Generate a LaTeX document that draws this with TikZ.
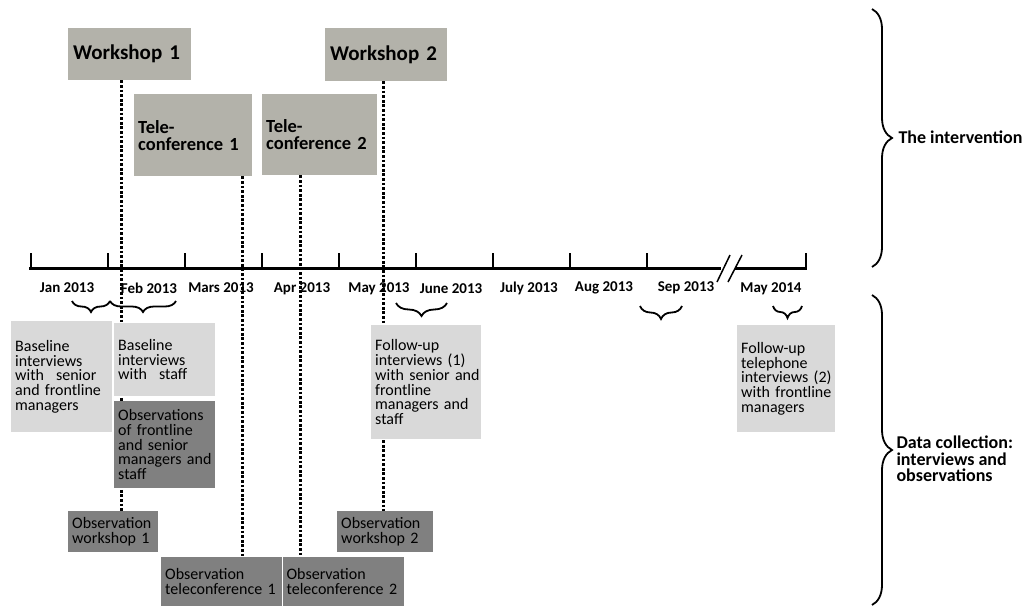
\documentclass[tikz,border=0pt]{standalone}
\usepackage{fontspec}
\setmainfont{Carlito}
\usetikzlibrary{positioning,decorations.pathreplacing,backgrounds}
\definecolor{eventgray}{RGB}{179,178,170}
\definecolor{intgray}{RGB}{217,217,217}
\definecolor{obsgray}{RGB}{128,128,128}
\hyphenpenalty=10000
\exhyphenpenalty=10000
\tikzstyle{event}=[fill=eventgray, anchor=north west, align=left, inner xsep=5pt, inner ysep=0pt]
\tikzstyle{interview}=[fill=intgray, anchor=north west, align=left, inner xsep=4pt, inner ysep=0pt, font=\fontsize{16}{14.7}\selectfont]
\tikzstyle{observe}=[interview, fill=obsgray]
\tikzstyle{month}=[font=\fontsize{15}{16}\selectfont\bfseries]
\tikzstyle{phase}=[anchor=west, align=left, font=\fontsize{18}{16.5}\selectfont\bfseries]
\tikzstyle{timeline}=[line width=3pt, dash pattern=on 2.8pt off 1.8pt]
\tikzstyle{period}=[decorate, decoration={brace, mirror, amplitude=11pt}, line width=1.8pt]
\tikzstyle{part}=[decorate, decoration={brace, amplitude=20pt}, line width=1.8pt]

\begin{document}
\begin{tikzpicture}[x=1pt,y=-1pt]
        \useasboundingbox (0,0) rectangle (1033,606);
        % intervention
        \node [event, minimum width=123pt, minimum height=52pt, text width=113pt, font=\fontsize{21}{24}\selectfont\bfseries] (ws1) at (68,28) {Workshop 1};
        \node [event, minimum width=122pt, minimum height=53pt, text width=112pt, font=\fontsize{21}{24}\selectfont\bfseries] (ws2) at (325,28) {Workshop 2};
        \node [event, inner xsep=4pt, minimum width=118pt, minimum height=82pt, text width=110pt, font=\fontsize{18.5}{17}\selectfont\bfseries] (tc1) at (134,94) {Tele-\\conference~1};
        \node [event, inner xsep=4pt, minimum width=115pt, minimum height=81pt, text width=107pt, font=\fontsize{18.5}{17}\selectfont\bfseries] (tc2) at (262,94) {Tele-\\conference~2};

        % data collection
        \node [interview, minimum width=101pt, minimum height=111pt, text width=93pt] (base1) at (11,321) {Baseline\\interviews\\with\hspace{12pt}senior\\and~frontline\\managers};
        \node [interview, minimum width=101pt, minimum height=73pt, text width=93pt] (base2) at (114,323) {Baseline\\interviews\\with\hspace{12pt}staff};
        \node [observe, minimum width=101pt, minimum height=87pt, text width=93pt] (obs) at (114,401) {Observations\\of~frontline\\and~senior\\managers~and\\staff};
        \node [interview, minimum width=110pt, minimum height=114pt, text width=102pt] (fu1) at (371,325) {Follow-up\\interviews~(1)\\with~senior~and\\frontline\\managers~and\\staff};
        \node [interview, minimum width=98pt, minimum height=107pt, text width=90pt] (fu2) at (737,325) {Follow-up\\telephone\\interviews~(2)\\with~frontline\\managers};
        \node [observe, minimum width=90pt, minimum height=41pt, text width=82pt] (ow1) at (68,511) {Observation\\workshop~1};
        \node [observe, minimum width=96pt, minimum height=41pt, text width=88pt] (ow2) at (337,511) {Observation\\workshop~2};
        \node [observe, minimum width=121pt, minimum height=49pt, text width=113pt] (ot1) at (161,557) {Observation\\teleconference~1};
        \node [observe, minimum width=121pt, minimum height=49pt, text width=113pt, right=0pt of ot1.north east, anchor=north west] (ot2) {Observation\\teleconference~2};

        % months
        \node [month] (jan) at (67,288) {Jan 2013};
        \node [month] (feb) at (149,288) {Feb 2013};
        \node [month] (mar) at (221,288) {Mars 2013};
        \node [month] (apr) at (302,289) {Apr 2013};
        \node [month] (may) at (379,289) {May 2013};
        \node [month] (jun) at (451,289) {June 2013};
        \node [month] (jul) at (529,288) {July 2013};
        \node [month] (aug) at (604,288) {Aug 2013};
        \node [month] (sep) at (686,288) {Sep 2013};
        \node [month] (may14) at (771,289) {May 2014};

        \node [phase] (interv) at (895,137) {The intervention};
        \node [phase] (datacol) at (893,459) {Data collection:\\interviews and\\observations};

        % time axis
        \draw [line width=3pt] (29,268) -- (721,268);
        \draw [line width=3pt] (735,268) -- (807,268);
        \draw [line width=1.8pt] (31,253) -- (31,268) (108,253) -- (108,268) (185,253) -- (185,268)
            (262,253) -- (262,268) (339,253) -- (339,268) (416,253) -- (416,268) (493,253) -- (493,268)
            (570,253) -- (570,268) (647,253) -- (647,268) (806,253) -- (806,269.5);
        \draw [line width=1.5pt] (717,282) -- (730,255) (728,282) -- (742,255);

        % periods
        \draw [period] (72,301) -- (110,301);
        \draw [period] (110,301) -- (176,301);
        \draw [period, decoration={amplitude=13pt}] (396,303) -- (447,303);
        \draw [period, decoration={amplitude=13pt}] (640,306) -- (682,306);
        \draw [period, decoration={amplitude=12pt}] (773,306) -- (802,306);
        \draw [part] (872,9) -- (872,267);
        \draw [part] (872,295) -- (872,605);

        \begin{pgfonlayer}{background}
        \fill [white] (0,0) rectangle (1033,606);
        \coordinate (xw1) at (121,0);
        \coordinate (xt1) at (242,0);
        \coordinate (xt2) at (300,0);
        \coordinate (xw2) at (383,0);
        \draw [timeline] (ws1.south -| xw1) -- (ow1.north -| xw1);
        \draw [timeline] (tc1.south -| xt1) -- (ot1.north -| xt1);
        \draw [timeline] (tc2.south -| xt2) -- (ot2.north -| xt2);
        \draw [timeline] (ws2.south -| xw2) -- (ow2.north -| xw2);
        \end{pgfonlayer}
\end{tikzpicture}
\end{document}
